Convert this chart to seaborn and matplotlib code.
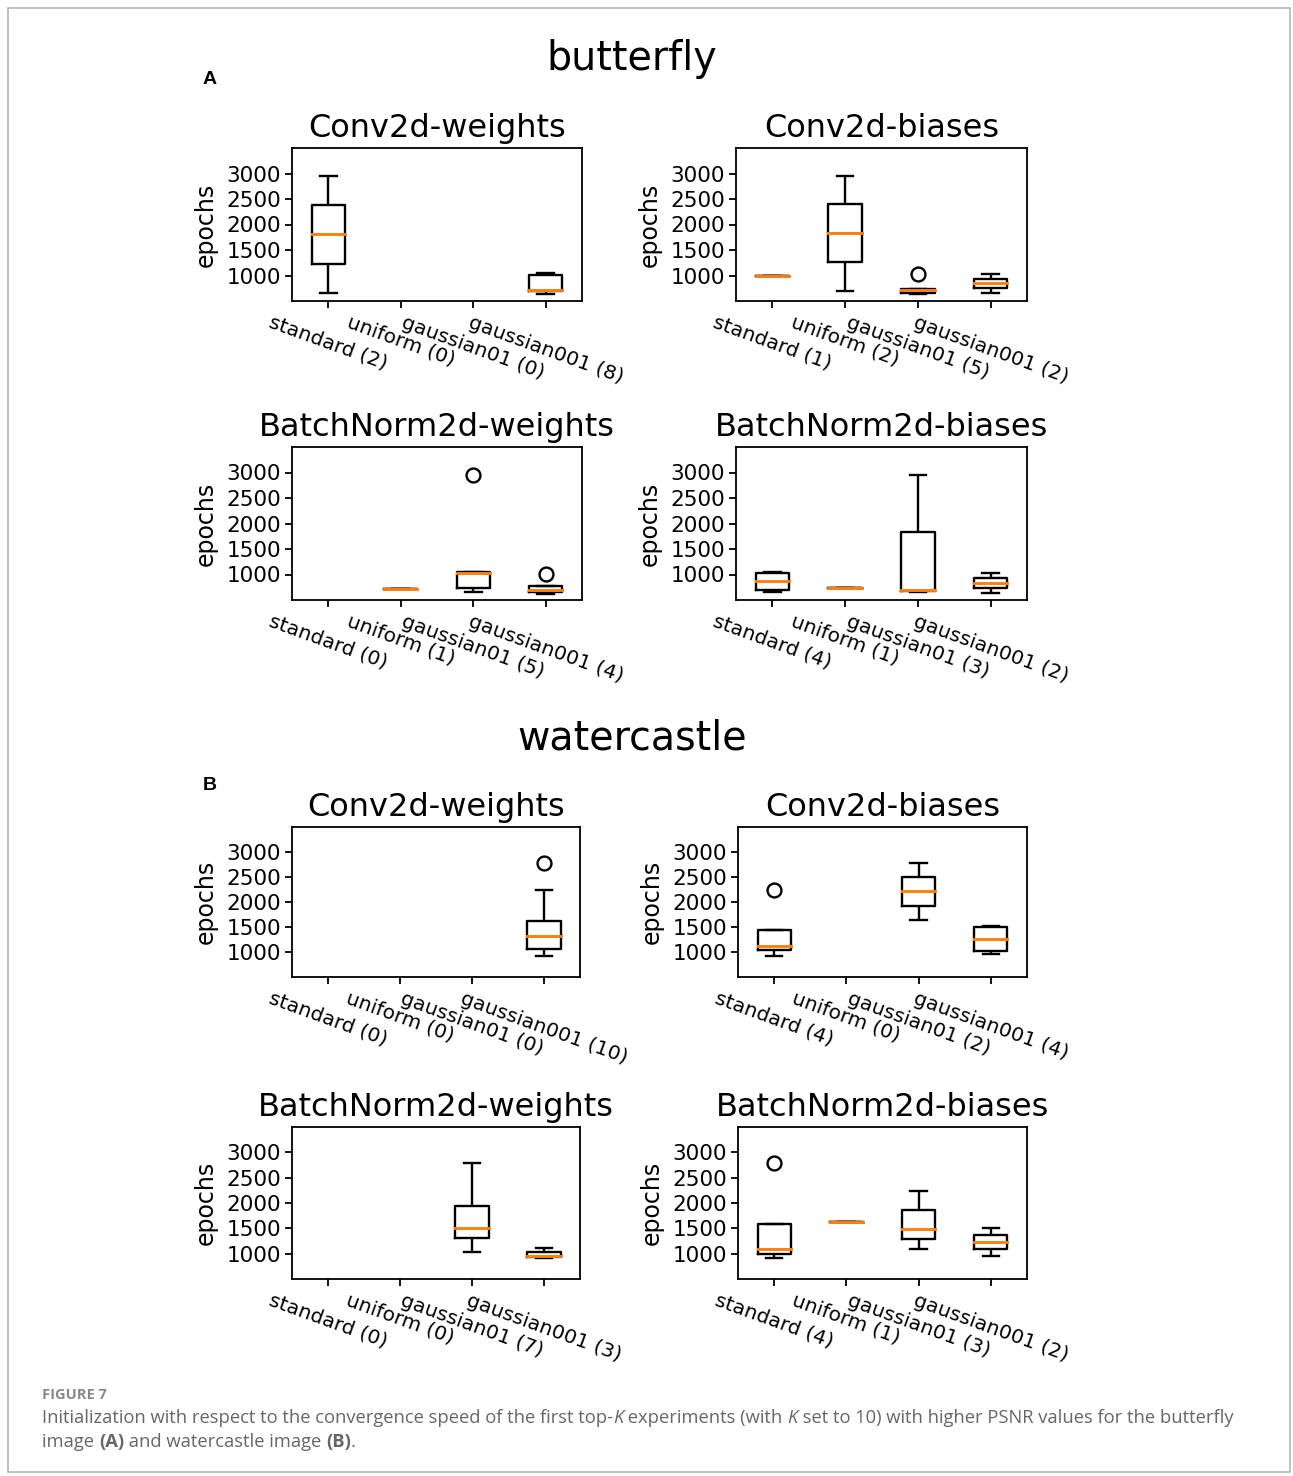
import numpy as np
import pandas as pd
import matplotlib
matplotlib.use("Agg")
import matplotlib.pyplot as plt
import seaborn as sns
from matplotlib.patches import Rectangle

# ---------------- data ----------------
inits = ["standard", "uniform", "gaussian01", "gaussian001"]
params = ["Conv2d-weights", "Conv2d-biases", "BatchNorm2d-weights", "BatchNorm2d-biases"]
images = ["butterfly", "watercastle"]
panel_letters = ["A", "B"]
yticks = [1000, 1500, 2000, 2500, 3000]
ylim = (500, 3500)

# butterfly: epochs to converge for each init (top-K runs)
bf_convw_standard = [660, 2960]
bf_convw_uniform = []
bf_convw_gaussian01 = []
bf_convw_gaussian001 = [630, 660, 700, 720, 730, 1000, 1020, 1040]

bf_convb_standard = [1000]
bf_convb_uniform = [690, 2960]
bf_convb_gaussian01 = [640, 650, 720, 740, 1020]
bf_convb_gaussian001 = [655, 1035]

bf_bnw_standard = []
bf_bnw_uniform = [720]
bf_bnw_gaussian01 = [650, 730, 1020, 1045, 2950]
bf_bnw_gaussian001 = [615, 675, 705, 1010]

bf_bnb_standard = [660, 721, 1011, 1046]
bf_bnb_uniform = [740]
bf_bnb_gaussian01 = [650, 700, 2960]
bf_bnb_gaussian001 = [640, 1030]

# watercastle
wc_convw_standard = []
wc_convw_uniform = []
wc_convw_gaussian01 = []
wc_convw_gaussian001 = [915, 1000, 1040, 1090, 1300, 1360, 1500, 1650, 2250, 2790]

wc_convb_standard = [923, 1087, 1173, 2240]
wc_convb_uniform = []
wc_convb_gaussian01 = [1640, 2790]
wc_convb_gaussian001 = [954, 1033, 1486, 1521]

wc_bnw_standard = []
wc_bnw_uniform = []
wc_bnw_gaussian01 = [1030, 1250, 1380, 1515, 1700, 2170, 2790]
wc_bnw_gaussian001 = [909, 955, 1105]

wc_bnb_standard = [914, 1019, 1181, 2790]
wc_bnb_uniform = [1630]
wc_bnb_gaussian01 = [1100, 1480, 2245]
wc_bnb_gaussian001 = [950, 1515]

data_table = {
    ("butterfly", "Conv2d-weights"): [bf_convw_standard, bf_convw_uniform, bf_convw_gaussian01, bf_convw_gaussian001],
    ("butterfly", "Conv2d-biases"): [bf_convb_standard, bf_convb_uniform, bf_convb_gaussian01, bf_convb_gaussian001],
    ("butterfly", "BatchNorm2d-weights"): [bf_bnw_standard, bf_bnw_uniform, bf_bnw_gaussian01, bf_bnw_gaussian001],
    ("butterfly", "BatchNorm2d-biases"): [bf_bnb_standard, bf_bnb_uniform, bf_bnb_gaussian01, bf_bnb_gaussian001],
    ("watercastle", "Conv2d-weights"): [wc_convw_standard, wc_convw_uniform, wc_convw_gaussian01, wc_convw_gaussian001],
    ("watercastle", "Conv2d-biases"): [wc_convb_standard, wc_convb_uniform, wc_convb_gaussian01, wc_convb_gaussian001],
    ("watercastle", "BatchNorm2d-weights"): [wc_bnw_standard, wc_bnw_uniform, wc_bnw_gaussian01, wc_bnw_gaussian001],
    ("watercastle", "BatchNorm2d-biases"): [wc_bnb_standard, wc_bnb_uniform, wc_bnb_gaussian01, wc_bnb_gaussian001],
}

records = []
for (img, par), lists in data_table.items():
    for init, vals in zip(inits, lists):
        for v in vals:
            records.append({"image": img, "param": par, "init": init, "epochs": v})
df = pd.DataFrame(records)

# ---------------- figure ----------------
W, H = 1293, 1476
fig = plt.figure(figsize=(W / 100, H / 100), dpi=100)
fig.patch.set_facecolor("white")


def px_rect(x0, y0, x1, y1):
    return [x0 / W, 1 - y1 / H, (x1 - x0) / W, (y1 - y0) / H]


axes_px = {
    ("butterfly", 0): (292, 148, 582, 301),
    ("butterfly", 1): (736, 148, 1027, 301),
    ("butterfly", 2): (292, 447, 582, 600),
    ("butterfly", 3): (736, 447, 1027, 600),
    ("watercastle", 0): (292, 827, 580, 977),
    ("watercastle", 1): (738, 827, 1027, 977),
    ("watercastle", 2): (292, 1127, 580, 1279),
    ("watercastle", 3): (738, 1127, 1027, 1279),
}

orange = "#ff7f0e"
for img in images:
    for k, par in enumerate(params):
        ax = fig.add_axes(px_rect(*axes_px[(img, k)]))
        sub = df[(df["image"] == img) & (df["param"] == par)]
        sns.boxplot(
            data=sub, x="init", y="epochs", order=inits, ax=ax,
            width=0.46, fill=False, color="black", linewidth=1.7, whis=1.5,
            fliersize=10,
            medianprops=dict(color=orange, linewidth=2.1, zorder=6,
                             solid_capstyle="projecting"),
            flierprops=dict(marker="o", markerfacecolor="none",
                            markeredgecolor="black", markeredgewidth=1.7),
        )
        counts = [len(v) for v in data_table[(img, par)]]
        ax.set_xticks(range(len(inits)))
        ax.set_xticklabels([f"{c} ({n})" for c, n in zip(inits, counts)],
                           rotation=-20, ha="center", fontsize=14.5)
        ax.set_xlim(-0.5, len(inits) - 0.5)
        ax.set_ylim(*ylim)
        ax.set_yticks(yticks)
        ax.tick_params(axis="y", labelsize=15.5, pad=3)
        ax.tick_params(width=1.3, length=5)
        ax.set_xlabel("")
        ax.set_ylabel("epochs", fontsize=17, labelpad=6)
        ax.set_title(par, fontsize=23, pad=8)
        for s in ax.spines.values():
            s.set_visible(True)
            s.set_linewidth(1.3)
            s.set_color("black")

# section titles and letters
fig.text(632 / W, 1 - 59 / H, "butterfly", ha="center", va="center", fontsize=28.5)
fig.text(632 / W, 1 - 738 / H, "watercastle", ha="center", va="center", fontsize=28.5)
fig.text(203 / W, 1 - 79 / H, "A", ha="left", va="center", fontsize=14,
         fontweight="bold", family=["Liberation Sans", "DejaVu Sans"])
fig.text(203 / W, 1 - 785 / H, "B", ha="left", va="center", fontsize=14,
         fontweight="bold", family=["Liberation Sans", "DejaVu Sans"])

# border
fig.patches.append(Rectangle((8 / W, 1 - 1472 / H), (1290 - 8) / W, (1472 - 8) / H,
                             transform=fig.transFigure, fill=False,
                             edgecolor="#b5b5b5", linewidth=1.2))

# caption
cap_family = ["Open Sans", "Noto Sans", "DejaVu Sans"]
cap_color = "#666666"
fig.text(42 / W, 1 - 1395 / H, "FIGURE 7", ha="left", va="center", fontsize=10.5,
         color="#888888", family=cap_family, fontweight="bold")

renderer = fig.canvas.get_renderer()


def run_width(text, style, size):
    t1 = fig.text(0, 0, text + "|", fontsize=size, family=cap_family, **style)
    t2 = fig.text(0, 0, "|", fontsize=size, family=cap_family, **style)
    w = t1.get_window_extent(renderer).width - t2.get_window_extent(renderer).width
    t1.remove()
    t2.remove()
    return w


def rich_line(x_px, y_px, runs, size):
    x = x_px
    for text, style in runs:
        fig.text(x / W, 1 - y_px / H, text, ha="left", va="center", fontsize=size,
                 family=cap_family, color=cap_color, **style)
        x += run_width(text, style, size)


reg = {}
ita = {"style": "italic"}
bld = {"fontweight": "bold"}
cap_size = 13.2
rich_line(42, 1418, [
    ("Initialization with respect to the convergence speed of the first top-", reg),
    ("K", ita),
    (" experiments (with ", reg),
    ("K", ita),
    (" set to 10) with higher PSNR values for the butterfly", reg),
], cap_size)
rich_line(42, 1442, [
    ("image ", reg),
    ("(A)", bld),
    (" and watercastle image ", reg),
    ("(B)", bld),
    (".", reg),
], cap_size)

fig.savefig("out.png", dpi=100, facecolor="white")
